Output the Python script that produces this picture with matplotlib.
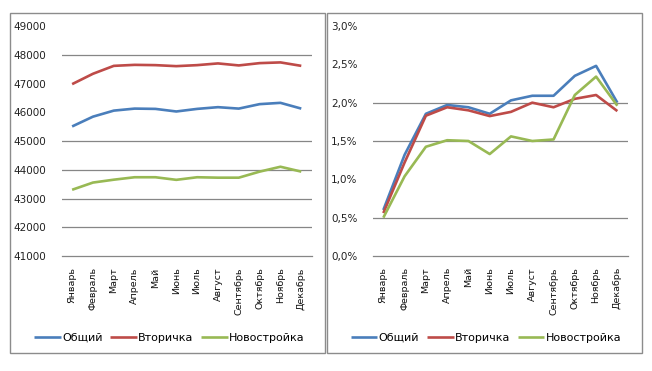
import matplotlib
matplotlib.use("Agg")
import matplotlib.pyplot as plt
from matplotlib.patches import Rectangle

plt.rcParams["font.family"] = ["DejaVu Sans"]

months = ["Январь", "Февраль", "Март", "Апрель", "Май", "Июнь",
          "Июль", "Август", "Сентябрь", "Октябрь", "Ноябрь", "Декабрь"]
series_names = ["Общий", "Вторичка", "Новостройка"]

# left panel - average price
price_total = [45510, 45850, 46060, 46130, 46120, 46030,
               46120, 46180, 46130, 46285, 46330, 46130]
price_second = [46980, 47340, 47615, 47650, 47640, 47605,
                47640, 47700, 47630, 47710, 47735, 47615]
price_new = [43310, 43560, 43660, 43745, 43745, 43655,
             43745, 43730, 43730, 43940, 44110, 43940]

# right panel - growth, %
growth_total = [0.60, 1.32, 1.855, 1.97, 1.94, 1.855,
                2.03, 2.09, 2.09, 2.35, 2.48, 2.00]
growth_second = [0.56, 1.22, 1.83, 1.94, 1.90, 1.825,
                 1.88, 2.00, 1.94, 2.05, 2.10, 1.89]
growth_new = [0.50, 1.04, 1.425, 1.51, 1.50, 1.33,
              1.56, 1.50, 1.52, 2.10, 2.34, 1.96]

left_ticks = [41000, 42000, 43000, 44000, 45000, 46000, 47000, 48000, 49000]
left_grid = [42000, 43000, 44000, 45000, 48000]
right_ticks = [0.0, 0.5, 1.0, 1.5, 2.0, 2.5, 3.0]
right_labels = ["0,0%", "0,5%", "1,0%", "1,5%", "2,0%", "2,5%", "3,0%"]
right_grid = [0.5, 1.5, 2.0]

colors = ["#4A7EBB", "#BE4B48", "#98B954"]
W, H = 652, 371

fig = plt.figure(figsize=(W / 100, H / 100), dpi=100)

# panel frames
for x0, x1 in [(10, 325), (327, 642)]:
    fig.patches.append(Rectangle((x0 / W, 1 - 353 / H), (x1 - x0) / W, 340 / H,
                                 transform=fig.transFigure, fill=False,
                                 edgecolor="#8c8c8c", linewidth=1.0))

ax1 = fig.add_axes([61.7 / W, 1 - 256.25 / H, 250 / W, 230.25 / H])
ax2 = fig.add_axes([372.7 / W, 1 - 256 / H, 255.3 / W, 230 / H])

x = list(range(len(months)))


def style(ax, ymin, ymax, ticks, labels, grid):
    for s in ax.spines.values():
        s.set_visible(False)
    for g in grid:
        ax.axhline(g, color="#868686", linewidth=0.9, zorder=1)
    ax.axhline(ymin, color="#868686", linewidth=0.9, zorder=1, clip_on=False)
    ax.set_ylim(ymin, ymax)
    ax.set_xlim(-0.5, len(months) - 0.5)
    ax.set_yticks(ticks)
    ax.set_yticklabels(labels, fontsize=7.5, color="#222222")
    ax.set_xticks(x)
    ax.set_xticklabels(months, rotation=90, fontsize=6.8, color="#111111",
                       ha="center", va="top")
    ax.tick_params(length=0)
    ax.tick_params(axis="y", pad=11)
    ax.tick_params(axis="x", pad=8)


style(ax1, 41000, 49000, left_ticks, [str(v) for v in left_ticks], left_grid)
style(ax2, 0.0, 3.0, right_ticks, right_labels, right_grid)

for ax, data in [(ax1, [price_total, price_second, price_new]),
                 (ax2, [growth_total, growth_second, growth_new])]:
    for vals, c, name in zip(data, colors, series_names):
        ax.plot(x, vals, color=c, linewidth=1.9, label=name, zorder=3,
                solid_capstyle="butt")

for ax, cx in [(ax1, 169.5), (ax2, 486)]:
    ax.legend(loc="center", bbox_to_anchor=(cx / W, 1 - 338 / H),
              bbox_transform=fig.transFigure, ncol=3, frameon=False,
              fontsize=8, handlelength=2.4, handletextpad=0.1,
              columnspacing=0.7, borderpad=0)

fig.savefig("out.png", dpi=100)
